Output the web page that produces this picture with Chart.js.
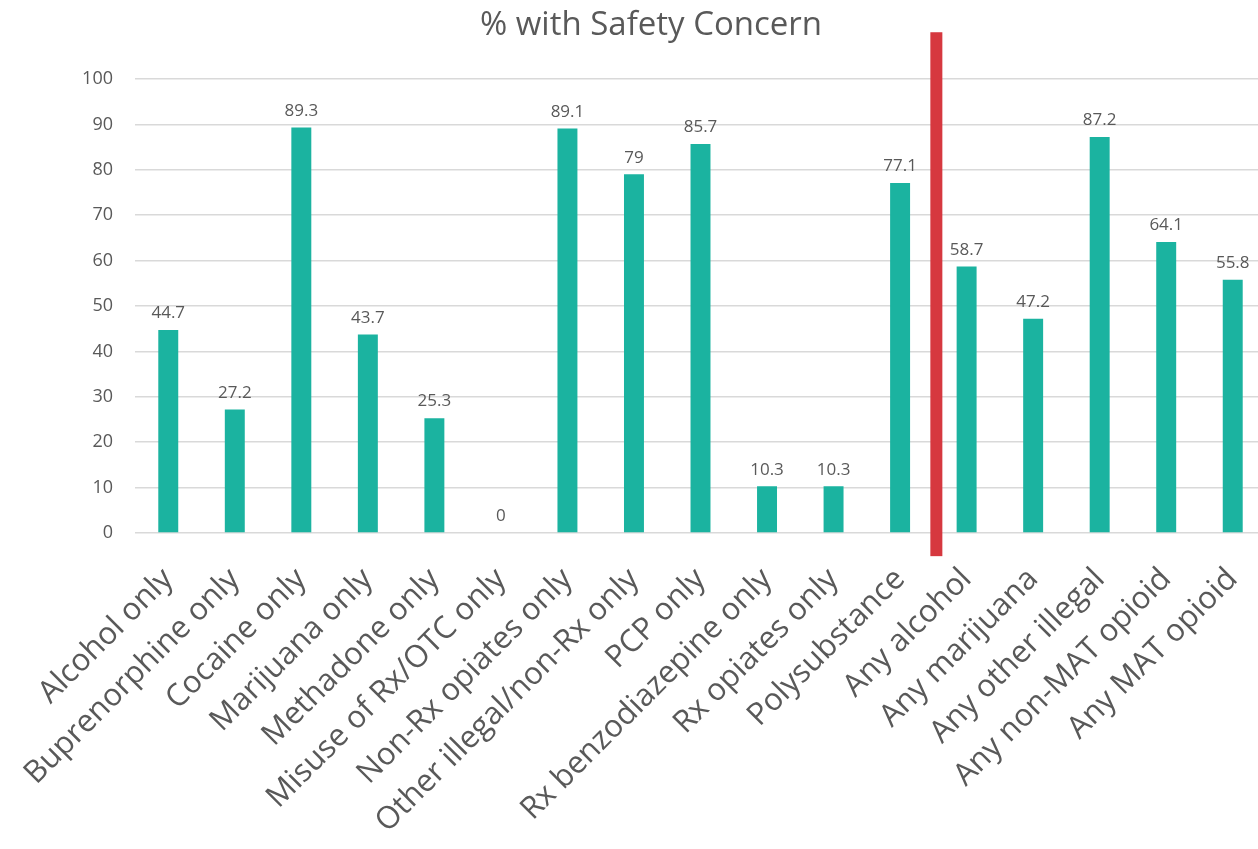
<!DOCTYPE html>
<html>
<head>
<meta charset="utf-8">
<title>% with Safety Concern</title>
<script src="https://cdn.jsdelivr.net/npm/chart.js@4.4.1/dist/chart.umd.min.js"></script>
<style>
  html, body { margin: 0; padding: 0; background: #fff; overflow: hidden; }
  #wrap { width: 1266px; height: 900px; }
</style>
</head>
<body>
<div id="wrap"><canvas id="chart" width="1266" height="900"></canvas></div>
<script>
const categories = [
  "Alcohol only",
  "Buprenorphine only",
  "Cocaine only",
  "Marijuana only",
  "Methadone only",
  "Misuse of Rx/OTC only",
  "Non-Rx opiates only",
  "Other illegal/non-Rx only",
  "PCP only",
  "Rx benzodiazepine only",
  "Rx opiates only",
  "Polysubstance",
  "Any alcohol",
  "Any marijuana",
  "Any other illegal",
  "Any non-MAT opioid",
  "Any MAT opioid",
];
const safetyConcern = [
  44.7, 27.2, 89.3, 43.7, 25.3, 0, 89.1, 79, 85.7, 10.3, 10.3, 77.1,
  58.7, 47.2, 87.2, 64.1, 55.8,
];
const yTicks = [0, 10, 20, 30, 40, 50, 60, 70, 80, 90, 100];
// last "only" group before the "Any ..." group
const lastSingleIndex = 11;

const TEXT = "#595959";
const FONT = "'Open Sans', sans-serif";

// value above each bar
const valueLabels = {
  id: "valueLabels",
  afterDatasetsDraw(chart) {
    const { ctx } = chart;
    ctx.save();
    ctx.font = `17px ${FONT}`;
    ctx.fillStyle = TEXT;
    ctx.textAlign = "center";
    ctx.textBaseline = "bottom";
    chart.getDatasetMeta(0).data.forEach((bar, i) => {
      ctx.fillText(String(safetyConcern[i]), bar.x, bar.y - 8);
    });
    ctx.restore();
  },
};

// red separator between the two groups
const divider = {
  id: "divider",
  afterDraw(chart, args, opts) {
    const { ctx } = chart;
    const xs = chart.scales.x;
    const ys = chart.scales.y;
    const cx =
      (xs.getPixelForValue(lastSingleIndex) +
        xs.getPixelForValue(lastSingleIndex + 1)) / 2 + 3;
    const top = ys.getPixelForValue(opts.from);
    const bottom = ys.getPixelForValue(opts.to);
    ctx.save();
    ctx.fillStyle = opts.color;
    ctx.fillRect(cx - opts.width / 2, top, opts.width, bottom - top);
    ctx.restore();
  },
};

const chartTitle = {
  id: "chartTitle",
  afterDraw(chart) {
    const { ctx } = chart;
    ctx.save();
    ctx.font = `33px ${FONT}`;
    ctx.fillStyle = TEXT;
    ctx.textAlign = "center";
    ctx.textBaseline = "middle";
    ctx.fillText("% with Safety Concern", 651, 26);
    ctx.restore();
  },
};

new Chart(document.getElementById("chart"), {
  type: "bar",
  data: {
    labels: categories,
    datasets: [
      {
        label: "% with Safety Concern",
        data: safetyConcern,
        backgroundColor: "#1bb3a0",
        borderWidth: 0,
        barPercentage: 0.3,
        categoryPercentage: 1,
      },
    ],
  },
  options: {
    responsive: false,
    animation: false,
    layout: { padding: { top: 79, right: 0, left: 0, bottom: 0 } },
    plugins: {
      legend: { display: false },
      tooltip: { enabled: false },
      title: { display: false },
      divider: { from: 110.3, to: -5.1, width: 12, color: "#d6383f" },
    },
    scales: {
      x: {
        grid: { display: false },
        border: { display: false },
        ticks: {
          autoSkip: false,
          minRotation: 45,
          maxRotation: 45,
          padding: 20,
          color: TEXT,
          font: { family: FONT, size: 31 },
        },
        afterFit(scale) {
          // labels may spill past the edges; keep the full width for bars
          scale.height = 367;
          scale.paddingLeft = 0;
          scale.paddingRight = 0;
        },
      },
      y: {
        min: 0,
        max: 100,
        afterBuildTicks(scale) {
          scale.ticks = yTicks.map(v => ({ value: v }));
        },
        grid: { color: "#d9d9d9", lineWidth: 1.5, drawTicks: false },
        border: { display: false },
        ticks: {
          padding: 22,
          color: TEXT,
          font: { family: FONT, size: 18 },
        },
        afterFit(scale) {
          scale.width = 135;
        },
      },
    },
  },
  plugins: [valueLabels, divider, chartTitle],
});
</script>
</body>
</html>
